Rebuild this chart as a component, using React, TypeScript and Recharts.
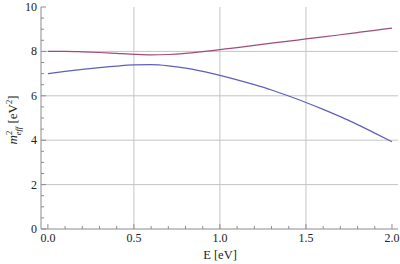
import React from "react";
import { LineChart, Line, XAxis, YAxis, ReferenceLine } from "recharts";

const energies = [0, 0.1, 0.2, 0.3, 0.4, 0.5, 0.6, 0.7, 0.8, 0.9, 1.0, 1.1, 1.2, 1.3, 1.4, 1.5, 1.6, 1.7, 1.8, 1.9, 2.0];
const upperBranch = [8.0, 8.0, 7.98, 7.95, 7.91, 7.87, 7.845, 7.86, 7.91, 7.99, 8.08, 8.17, 8.27, 8.37, 8.46, 8.56, 8.65, 8.75, 8.85, 8.95, 9.05];
const lowerBranch = [7.0, 7.1, 7.19, 7.27, 7.34, 7.39, 7.4, 7.35, 7.25, 7.1, 6.92, 6.72, 6.5, 6.26, 5.99, 5.7, 5.39, 5.06, 4.7, 4.32, 3.93];

const xMajor = [0, 0.5, 1, 1.5, 2];
const xTicks = [0, 0.1, 0.2, 0.3, 0.4, 0.5, 0.6, 0.7, 0.8, 0.9, 1.0, 1.1, 1.2, 1.3, 1.4, 1.5, 1.6, 1.7, 1.8, 1.9, 2.0];
const yMajor = [0, 2, 4, 6, 8, 10];
const yTicks = [0, 0.5, 1, 1.5, 2, 2.5, 3, 3.5, 4, 4.5, 5, 5.5, 6, 6.5, 7, 7.5, 8, 8.5, 9, 9.5, 10];
const xGrid = [0.5, 1, 1.5];
const yGrid = [2, 4, 6, 8];

const data = energies.map((e, i) => ({ e, up: upperBranch[i], low: lowerBranch[i] }));

const FONT = "Liberation Serif, Times New Roman, DejaVu Serif, serif";
const FRAME = "#8c8c8c";
const TICK = "#8c8c8c";
const isMajor = (arr: number[], v: number) => arr.some((m) => Math.abs(m - v) < 1e-9);

const BottomTick = (p: any) => {
  const v = p.payload.value;
  const major = isMajor(xMajor, v);
  return (
    <g>
      <line x1={p.x} x2={p.x} y1={p.y} y2={p.y - (major ? 5 : 3)} stroke={TICK} strokeWidth={1} />
      {major && (
        <text x={p.x} y={p.y + 13} textAnchor="middle" style={{ fontFamily: FONT, fontSize: 12 }} fill="#222">
          {v.toFixed(1)}
        </text>
      )}
    </g>
  );
};
const TopTick = (p: any) => {
  const major = isMajor(xMajor, p.payload.value);
  return <line x1={p.x} x2={p.x} y1={p.y} y2={p.y + (major ? 5 : 3)} stroke={TICK} strokeWidth={1} />;
};
const LeftTick = (p: any) => {
  const v = p.payload.value;
  const major = isMajor(yMajor, v);
  return (
    <g>
      <line x1={p.x} x2={p.x + (major ? 5 : 3)} y1={p.y} y2={p.y} stroke={TICK} strokeWidth={1} />
      {major && (
        <text x={p.x - 4} y={p.y + 4} textAnchor="end" style={{ fontFamily: FONT, fontSize: 12 }} fill="#222">
          {String(v)}
        </text>
      )}
    </g>
  );
};
const RightTick = (p: any) => {
  const major = isMajor(yMajor, p.payload.value);
  return <line x1={p.x} x2={p.x - (major ? 5 : 3)} y1={p.y} y2={p.y} stroke={TICK} strokeWidth={1} />;
};

export default function App() {
  return (
    <div style={{ position: "absolute", left: 0, top: 0, width: 400, height: 264, background: "#fff" }}>
      <LineChart width={400} height={264} data={data} margin={{ top: 7, right: 2, bottom: 0, left: 0 }}>
        <XAxis
          dataKey="e"
          type="number"
          domain={[-0.04, 2.035]}
          ticks={xTicks}
          interval={0}
          tickSize={0}
          tickMargin={0}
          tick={<BottomTick />}
          axisLine={{ stroke: FRAME }}
          tickLine={false}
          height={35}
          allowDataOverflow
        />
        <XAxis
          xAxisId="top"
          orientation="top"
          dataKey="e"
          type="number"
          domain={[-0.04, 2.035]}
          ticks={xTicks}
          interval={0}
          tickSize={0}
          tickMargin={0}
          tick={<TopTick />}
          axisLine={{ stroke: FRAME }}
          tickLine={false}
          height={0}
          allowDataOverflow
        />
        <YAxis
          type="number"
          domain={[0, 10]}
          ticks={yTicks}
          interval={0}
          tickSize={0}
          tickMargin={0}
          tick={<LeftTick />}
          axisLine={{ stroke: FRAME }}
          tickLine={false}
          width={41}
          allowDataOverflow
        />
        <YAxis
          yAxisId="right"
          orientation="right"
          type="number"
          domain={[0, 10]}
          ticks={yTicks}
          interval={0}
          tickSize={0}
          tickMargin={0}
          tick={<RightTick />}
          axisLine={{ stroke: FRAME }}
          tickLine={false}
          width={0}
          allowDataOverflow
        />
        {xGrid.map((g) => (
          <ReferenceLine key={"x" + g} x={g} stroke="#c4c4c4" strokeWidth={1} />
        ))}
        {yGrid.map((g) => (
          <ReferenceLine key={"y" + g} y={g} stroke="#c4c4c4" strokeWidth={1} />
        ))}
        <Line type="monotone" dataKey="up" stroke="#a04a7e" strokeWidth={1.2} dot={false} isAnimationActive={false} />
        <Line type="monotone" dataKey="low" stroke="#5f5fbb" strokeWidth={1.2} dot={false} isAnimationActive={false} />
        <text x={220} y={259} textAnchor="middle" style={{ fontFamily: FONT, fontSize: 12.5 }} fill="#222">
          E [eV]
        </text>
        <text transform="translate(17,120) rotate(-90)" textAnchor="middle" style={{ fontFamily: FONT, fontSize: 13 }} fill="#222">
          <tspan fontStyle="italic">m</tspan>
          <tspan style={{ fontSize: 8.5 }} dy={-5}>2</tspan>
          <tspan style={{ fontSize: 8.5 }} fontStyle="italic" dx={-4.5} dy={8.5}>eff</tspan>
          <tspan dy={-3.5}> [eV</tspan>
          <tspan style={{ fontSize: 8.5 }} dy={-5}>2</tspan>
          <tspan dy={5}>]</tspan>
        </text>
      </LineChart>
    </div>
  );
}
